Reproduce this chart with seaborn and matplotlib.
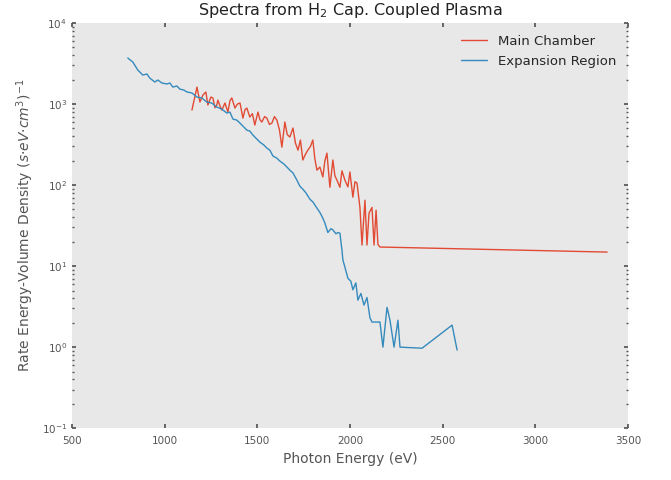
import matplotlib
matplotlib.use("Agg")
import matplotlib.pyplot as plt
import seaborn as sns
import pandas as pd
import numpy as np

# Main Chamber (red)
main_energy = [1148, 1175, 1191, 1207, 1223, 1234, 1250, 1261, 1272, 1282, 1288, 1299, 1309, 1326,
               1342, 1353, 1363, 1380, 1393, 1407, 1423, 1434, 1444, 1460, 1474, 1487, 1504, 1515,
               1525, 1540, 1552, 1566, 1579, 1593, 1606, 1620, 1633, 1649, 1662, 1676, 1693, 1706,
               1720, 1733, 1746, 1760, 1773, 1787, 1800, 1811, 1822, 1838, 1854, 1865, 1876, 1892,
               1908, 1919, 1930, 1946, 1957, 1973, 1989, 2000, 2016, 2027, 2038, 2054, 2065, 2081,
               2092, 2103, 2119, 2130, 2141, 2151, 2162, 3387]
main_rate = [843, 1620, 1060, 1290, 1410, 973, 1220, 1190, 900, 973, 1120, 950, 843, 1030,
             796, 1100, 1190, 893, 1000, 1030, 671, 850, 893, 692, 760, 551, 796, 640,
             600, 700, 671, 560, 582, 700, 634, 480, 294, 600, 420, 392, 506, 330,
             270, 360, 204, 240, 270, 300, 360, 210, 153, 167, 126, 200, 248, 94,
             204, 130, 115, 94, 150, 115, 95, 145, 71, 110, 106, 53, 18.2, 65,
             18.2, 45, 53, 18.2, 49, 18.5, 17.2, 14.9]

# Expansion Region (blue)
exp_energy = [802, 829, 856, 883, 905, 921, 948, 964, 986, 1013, 1029, 1045, 1067, 1083, 1104,
              1121, 1148, 1175, 1201, 1228, 1255, 1282, 1309, 1336, 1353, 1369, 1390, 1407,
              1428, 1444, 1460, 1477, 1498, 1514, 1536, 1552, 1568, 1585, 1606, 1622, 1644,
              1660, 1676, 1693, 1714, 1730, 1746, 1763, 1784, 1800, 1822, 1838, 1854, 1865,
              1881, 1898, 1908, 1925, 1935, 1946, 1957, 1962, 1973, 1989, 2005, 2016, 2032,
              2043, 2059, 2076, 2092, 2108, 2119, 2140, 2162, 2178, 2200, 2216, 2238, 2259,
              2270, 2389, 2551, 2578]
exp_rate = [3700, 3300, 2630, 2280, 2350, 2090, 1870, 1980, 1820, 1770, 1820, 1620, 1670, 1530, 1490,
            1410, 1370, 1220, 1190, 1060, 1030, 918, 867, 774, 796, 653, 634, 582,
            520, 477, 464, 414, 370, 340, 312, 286, 270, 228, 215, 198, 182,
            167, 153, 141, 115, 97, 89, 80, 67, 62, 52, 46, 39, 34,
            26, 29, 28, 25, 26, 25.5, 15.8, 11.9, 9.7, 7.1, 6.5, 5.1, 6.2,
            3.8, 4.6, 3.3, 4.1, 2.3, 2.04, 2.04, 2.04, 1.0, 3.1, 2.15, 1.0, 2.15,
            1.0, 0.97, 1.87, 0.92]

xticks = [500, 1000, 1500, 2000, 2500, 3000, 3500]

sns.set_theme(style="white", rc={
    "axes.facecolor": "#E8E8E8",
    "axes.edgecolor": "#E8E8E8",
    "figure.facecolor": "white",
})
plt.rcParams['font.family'] = ['DejaVu Sans']

fig = plt.figure(figsize=(6.71, 4.80), dpi=100)
ax = fig.add_axes([0.107, 0.108, 0.829, 0.844])

df_main = pd.DataFrame({"energy": main_energy, "rate": main_rate})
df_exp = pd.DataFrame({"energy": exp_energy, "rate": exp_rate})

sns.lineplot(data=df_main, x="energy", y="rate", ax=ax, color="#E24A33", lw=1.0,
             sort=False, estimator=None, label="Main Chamber")
sns.lineplot(data=df_exp, x="energy", y="rate", ax=ax, color="#348ABD", lw=1.0,
             sort=False, estimator=None, label="Expansion Region")

ax.set_yscale("log")
ax.set_xlim(500, 3500)
ax.set_ylim(0.1, 1e4)
ax.set_xticks(xticks)
ax.set_xticklabels([str(t) for t in xticks])

ax.tick_params(axis="both", which="both", direction="in", colors="#555555",
               labelsize=7.5, length=3, bottom=True, left=True, top=True, right=True)
ax.tick_params(axis="both", which="minor", length=1.5)
ax.tick_params(axis="x", pad=6)
for sp in ax.spines.values():
    sp.set_visible(False)

ax.set_title(r"Spectra from H$_2$ Cap. Coupled Plasma", fontsize=11.5, color="#222222")
ax.set_xlabel("Photon Energy (eV)", fontsize=10, color="#555555")
ax.set_ylabel(r"Rate Energy-Volume Density $(s{\cdot}eV{\cdot}cm^3)^{-1}$", fontsize=10, color="#555555")

leg = ax.legend(loc="upper right", frameon=False, fontsize=9.5)

fig.savefig("out.png", dpi=100)
